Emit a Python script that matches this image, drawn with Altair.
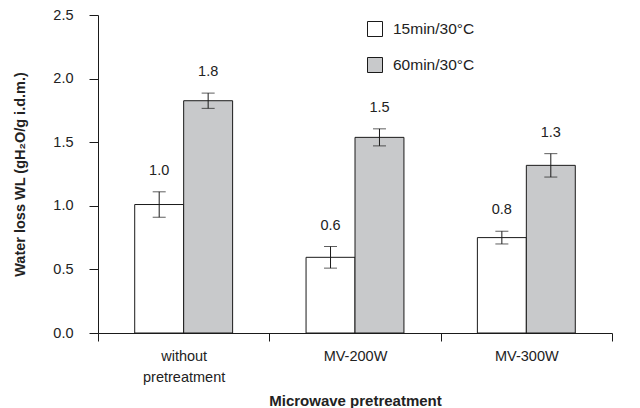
import altair as alt
import pandas as pd

# Water loss after osmotic dehydration, by microwave pretreatment
categories = ["without|pretreatment", "MV-200W", "MV-300W"]
series = ["15min/30°C", "60min/30°C"]
wl_15 = [1.01, 0.595, 0.75]
wl_60 = [1.826, 1.538, 1.318]
err_15 = [0.10, 0.085, 0.05]
err_60 = [0.06, 0.067, 0.092]

rows = []
for i, cat in enumerate(categories):
    for s, vals, errs in ((series[0], wl_15, err_15), (series[1], wl_60, err_60)):
        rows.append({
            "treatment": cat,
            "series": s,
            "wl": vals[i],
            "lo": vals[i] - errs[i],
            "hi": vals[i] + errs[i],
        })
df = pd.DataFrame(rows)

FONT = "Liberation Sans"
INK = "#222222"
LINE = "#1a1a1a"

x_enc = alt.X(
    "treatment:N",
    sort=categories,
    scale=alt.Scale(paddingInner=0, paddingOuter=0),
    axis=alt.Axis(
        title="Microwave pretreatment",
        labelExpr="split(datum.label, '|')",
        labelAngle=0,
        labelPadding=8,
        labelFontSize=14.5,
        labelLineHeight=21,
        labelBaseline="top",
        tickBand="extent",
        tickSize=8,
        titleFontSize=15,
        titleFontWeight="bold",
        titleY=67,
        titleBaseline="middle",
    ),
)
off_enc = alt.XOffset(
    "series:N", sort=series, scale=alt.Scale(paddingInner=0, paddingOuter=0.75)
)
y_scale = alt.Scale(domain=[0, 2.5])

base = alt.Chart(df).encode(x=x_enc, xOffset=off_enc)

bars = base.mark_bar(stroke=LINE, strokeWidth=1).encode(
    y=alt.Y(
        "wl:Q",
        scale=y_scale,
        axis=alt.Axis(
            title="Water loss WL (gH₂O/g i.d.m.)",
            values=[0, 0.5, 1.0, 1.5, 2.0, 2.5],
            format=".1f",
            grid=False,
            tickSize=9,
            labelPadding=16,
            labelFontSize=14.5,
            titleFontSize=14.5,
            titleFontWeight="bold",
            titleX=-78,
            titleY=159,
            titleAngle=-90,
            titleAlign="center",
            titleBaseline="middle",
        ),
    ),
    fill=alt.Fill(
        "series:N",
        sort=series,
        scale=alt.Scale(domain=series, range=["#ffffff", "#c8c9cb"]),
        legend=alt.Legend(
            title=None,
            orient="none",
            legendX=269,
            legendY=6,
            symbolType="square",
            symbolSize=225,
            symbolStrokeColor=LINE,
            symbolStrokeWidth=1,
            labelFontSize=15.5,
            labelOffset=10,
            rowPadding=16,
            padding=0,
        ),
    ),
)

err_rule = base.mark_rule(color=LINE, strokeWidth=1).encode(
    y=alt.Y("lo:Q", scale=y_scale), y2="hi:Q"
)
cap_lo = base.mark_tick(color=LINE, thickness=1, size=13).encode(
    y=alt.Y("lo:Q", scale=y_scale)
)
cap_hi = base.mark_tick(color=LINE, thickness=1, size=13).encode(
    y=alt.Y("hi:Q", scale=y_scale)
)
labels = base.mark_text(
    fontSize=14.5, font=FONT, color=INK, baseline="middle", dy=-21
).encode(y=alt.Y("hi:Q", scale=y_scale), text=alt.Text("wl:Q", format=".1f"))

chart = (
    alt.layer(bars, err_rule, cap_lo, cap_hi, labels)
    .properties(
        width=514,
        height=318,
        autosize=alt.AutoSizeParams(type="none"),
        padding={"left": 98, "top": 15, "right": 28, "bottom": 75},
    )
    .configure(font=FONT)
    .configure_view(stroke=None)
    .configure_axis(
        domainColor=LINE,
        tickColor=LINE,
        labelColor=INK,
        titleColor=INK,
        labelFont=FONT,
        titleFont=FONT,
    )
    .configure_legend(labelColor=INK, labelFont=FONT)
)

chart.save("out.html", embed_options={"renderer": "svg", "actions": False})
